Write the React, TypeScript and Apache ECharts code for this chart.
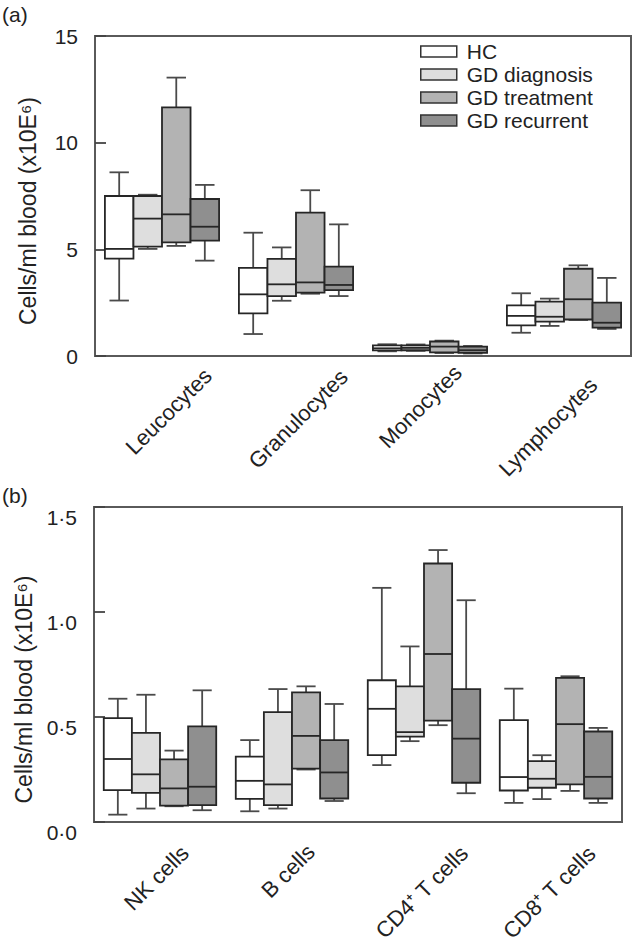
import React, { useEffect, useRef } from 'react';
import * as echarts from 'echarts';

const groupNames = ['HC', 'GD diagnosis', 'GD treatment', 'GD recurrent'];
const groupColors = ['#ffffff', '#dedede', '#b3b3b3', '#8f8f8f'];

const categoriesA = ['Leucocytes', 'Granulocytes', 'Monocytes', 'Lymphocytes'];
const categoriesB = ['NK cells', 'B cells', 'CD4\u207A T cells', 'CD8\u207A T cells'];

// [min, Q1, median, Q3, max] per category
const hcA = [[2.6, 4.56, 5.02, 7.5, 8.61], [1.03, 2.0, 2.89, 4.13, 5.78], [0.22, 0.26, 0.36, 0.5, 0.55], [1.09, 1.44, 1.88, 2.37, 2.94]];
const diagA = [[5.02, 5.13, 6.44, 7.5, 7.56], [2.59, 2.81, 3.36, 4.55, 5.09], [0.24, 0.27, 0.38, 0.5, 0.54], [1.41, 1.61, 1.84, 2.55, 2.69]];
const treatA = [[5.16, 5.33, 6.64, 11.65, 13.05], [2.92, 2.97, 3.45, 6.72, 7.77], [0.14, 0.17, 0.44, 0.68, 0.72], [1.69, 1.71, 2.66, 4.09, 4.25]];
const recurA = [[4.47, 5.41, 6.06, 7.36, 8.02], [2.81, 3.09, 3.33, 4.19, 6.17], [0.12, 0.15, 0.27, 0.44, 0.47], [1.27, 1.33, 1.56, 2.5, 3.66]];

const hcB = [[0.035, 0.152, 0.3, 0.495, 0.587], [0.051, 0.11, 0.196, 0.311, 0.39], [0.271, 0.318, 0.539, 0.675, 1.115], [0.091, 0.15, 0.214, 0.485, 0.635]];
const diagB = [[0.064, 0.139, 0.227, 0.424, 0.606], [0.064, 0.08, 0.179, 0.523, 0.633], [0.385, 0.407, 0.428, 0.646, 0.836], [0.109, 0.163, 0.206, 0.29, 0.318]];
const treatB = [[0.075, 0.078, 0.16, 0.298, 0.34], [0.25, 0.254, 0.41, 0.617, 0.646], [0.461, 0.483, 0.8, 1.231, 1.295], [0.148, 0.179, 0.466, 0.686, 0.694]];
const recurB = [[0.056, 0.08, 0.168, 0.455, 0.627], [0.1, 0.112, 0.236, 0.39, 0.562], [0.137, 0.187, 0.397, 0.633, 1.056], [0.091, 0.112, 0.215, 0.431, 0.448]];

const yTicksA = [0, 5, 10, 15];
const yTicksB = [0, 0.5, 1.0, 1.5];

const FONT = 'Liberation Sans, Arial, sans-serif';
const BOX_FRAC = 0.213;

function makeRender(idx: number, color: string) {
  return (_params: any, api: any) => {
    const cat = api.value(0);
    const band = api.size([1, 0])[0];
    const w = band * BOX_FRAC;
    const cx = api.coord([cat, 0])[0] + (idx - 1.5) * w;
    const yMin = api.coord([cat, api.value(1)])[1];
    const yQ1 = api.coord([cat, api.value(2)])[1];
    const yMed = api.coord([cat, api.value(3)])[1];
    const yQ3 = api.coord([cat, api.value(4)])[1];
    const yMax = api.coord([cat, api.value(5)])[1];
    const cap = w * 0.34;
    const wStyle = { stroke: '#4a4a4a', lineWidth: 1.8 };
    return {
      type: 'group',
      children: [
        { type: 'line', shape: { x1: cx, y1: yMax, x2: cx, y2: yQ3 }, style: wStyle },
        { type: 'line', shape: { x1: cx - cap, y1: yMax, x2: cx + cap, y2: yMax }, style: wStyle },
        { type: 'line', shape: { x1: cx, y1: yMin, x2: cx, y2: yQ1 }, style: wStyle },
        { type: 'line', shape: { x1: cx - cap, y1: yMin, x2: cx + cap, y2: yMin }, style: wStyle },
        { type: 'rect', shape: { x: cx - w / 2, y: yQ3, width: w, height: yQ1 - yQ3 }, style: { fill: color, stroke: '#262626', lineWidth: 1.8 } },
        { type: 'line', shape: { x1: cx - w / 2, y1: yMed, x2: cx + w / 2, y2: yMed }, style: { stroke: '#262626', lineWidth: 1.8 } },
      ],
    };
  };
}

const padA = [[33, 69, 0, 0], [35, 86, 0, 0], [18, 85, 0, 0], [28, 123, 0, 0]];
const padB = [[26, 84, 0, 0], [21, 75, 0, 0], [37, 102, 0, 0], [34, 109, 0, 0]];

export default function App() {
  const ref = useRef<HTMLDivElement>(null);
  useEffect(() => {
    if (!ref.current) return;
    const chart = echarts.init(ref.current, undefined, { renderer: 'svg' });
    const setsA = [hcA, diagA, treatA, recurA];
    const setsB = [hcB, diagB, treatB, recurB];
    const series: any[] = [];
    groupNames.forEach((name, i) => {
      series.push({
        type: 'custom', name, xAxisIndex: 0, yAxisIndex: 0,
        itemStyle: { color: groupColors[i], borderColor: '#333', borderWidth: 1.5 },
        renderItem: makeRender(i, groupColors[i]),
        encode: { x: 0, y: [1, 2, 3, 4, 5] },
        data: setsA[i].map((v, k) => [k, ...v]),
      });
      series.push({
        type: 'custom', name, xAxisIndex: 1, yAxisIndex: 1,
        itemStyle: { color: groupColors[i], borderColor: '#333', borderWidth: 1.5 },
        renderItem: makeRender(i, groupColors[i]),
        encode: { x: 0, y: [1, 2, 3, 4, 5] },
        data: setsB[i].map((v, k) => [k, ...v]),
      });
    });
    const frame = { show: true, borderColor: '#5a5a5a', borderWidth: 2, backgroundColor: 'transparent', outerBoundsMode: 'none', containLabel: false };
    const xAxisBase = (cats: string[], pads: number[][], gi: number) => ({
      type: 'category', gridIndex: gi,
      data: cats.map((c, k) => ({ value: c, textStyle: { padding: pads[k], align: 'center', verticalAlign: 'top' } })),
      axisTick: { show: false },
      axisLine: { show: true, lineStyle: { color: '#5a5a5a', width: 2 } },
      axisLabel: { rotate: 45, margin: 0, interval: 0, fontSize: 22, color: '#222', fontFamily: FONT, hideOverlap: false },
    });
    const yAxisBase = (gi: number, max: number, interval: number, fmt: (v: number) => string, vAlign: string, namePadRight: number) => ({
      type: 'value', gridIndex: gi, min: 0, max, interval,
      name: 'Cells/ml blood (x10E\u2076)', nameLocation: 'middle', nameGap: 56,
      nameTextStyle: { fontSize: 23, color: '#222', fontFamily: FONT, padding: [0, namePadRight, 0, 0] },
      axisLine: { show: true, lineStyle: { color: '#5a5a5a', width: 2 } },
      axisTick: { show: true, inside: true, length: 11, lineStyle: { color: '#444', width: 1.8 } },
      splitLine: { show: false },
      axisLabel: { fontSize: 21, color: '#222', fontFamily: FONT, margin: 17, formatter: fmt, verticalAlign: vAlign },
    });
    chart.setOption({
      animation: false,
      backgroundColor: '#fff',
      textStyle: { fontFamily: FONT },
      grid: [
        { left: 95, top: 36, width: 536, height: 320, ...frame },
        { left: 94, top: 507, width: 528, height: 315, ...frame },
      ],
      legend: {
        show: true, orient: 'vertical', left: 420, top: 41, padding: 0,
        itemWidth: 36, itemHeight: 11, itemGap: 2, icon: 'rect', selectedMode: false,
        textStyle: { fontSize: 21, lineHeight: 20, color: '#222', fontFamily: FONT, padding: [0, 0, 0, 5] },
        data: groupNames.map((n, i) => ({ name: n, itemStyle: { color: groupColors[i], borderColor: '#333', borderWidth: 1.5 } })),
      },
      xAxis: [xAxisBase(categoriesA, padA, 0), xAxisBase(categoriesB, padB, 1)],
      yAxis: [
        yAxisBase(0, yTicksA[yTicksA.length - 1], yTicksA[1] - yTicksA[0], (v: number) => String(v), 'middle', 30),
        yAxisBase(1, yTicksB[yTicksB.length - 1], yTicksB[1] - yTicksB[0], (v: number) => v.toFixed(1).replace('.', '\u00B7'), 'top', 50),
      ],
      graphic: [
        { type: 'text', left: 2, top: 4, style: { text: '(a)', fontSize: 21, fill: '#222', fontFamily: FONT } },
        { type: 'text', left: 2, top: 485, style: { text: '(b)', fontSize: 21, fill: '#222', fontFamily: FONT } },
      ],
      series,
    });
    return () => chart.dispose();
  }, []);
  return <div ref={ref} style={{ position: 'fixed', left: 0, top: 0, width: 634, height: 950 }} />;
}
